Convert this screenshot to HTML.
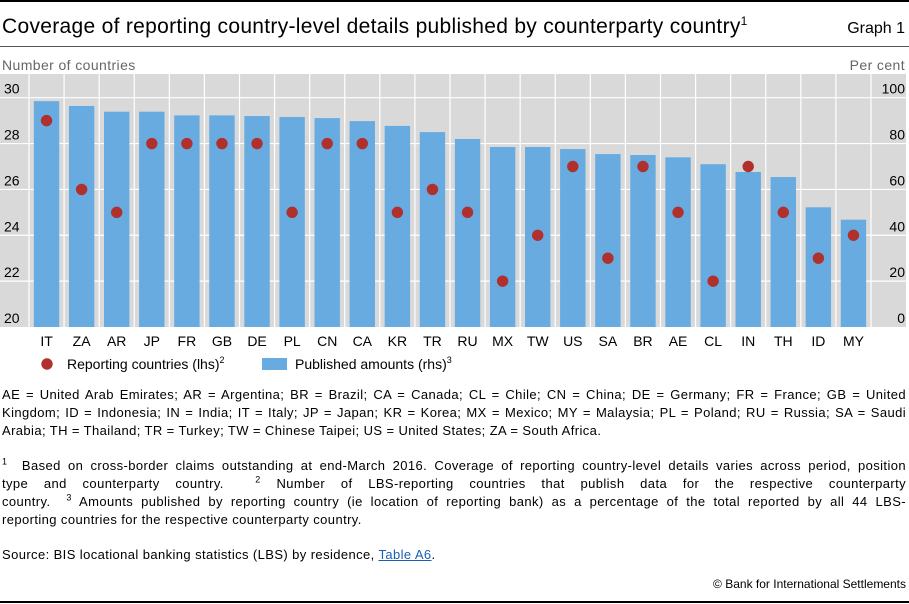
<!DOCTYPE html>
<html><head><meta charset="utf-8"><style>
body{margin:0;width:909px;height:604px;background:#fff;font-family:"Liberation Sans",sans-serif;position:relative;overflow:hidden;color:#000}
.abs{position:absolute}
.fn{position:absolute;left:2px;width:904px;font-size:13px;line-height:18px;letter-spacing:0.4px;white-space:nowrap}
.fn div{text-align:justify;text-align-last:justify}
.fn div.last{text-align-last:left}
sup{font-size:9px;line-height:0}
</style></head><body>
<div class="abs" style="left:0;top:0;width:909px;height:2px;background:#000"></div>
<div class="abs" style="left:2px;top:15px;font-size:21px;letter-spacing:0.3px">Coverage of reporting country-level details published by counterparty country<sup style="font-size:12px">1</sup></div>
<div class="abs" style="right:4px;top:20px;font-size:16px">Graph 1</div>
<div class="abs" style="left:0;top:46px;width:909px;height:1px;background:#555"></div>
<svg class="abs" style="left:0;top:0" width="909" height="390" id="chart"></svg>
<div class="fn" style="top:386px">
<div>AE = United Arab Emirates; AR = Argentina; BR = Brazil; CA = Canada; CL = Chile; CN = China; DE = Germany; FR = France; GB = United</div>
<div>Kingdom; ID = Indonesia; IN = India; IT = Italy; JP = Japan; KR = Korea; MX = Mexico; MY = Malaysia; PL = Poland; RU = Russia; SA = Saudi</div>
<div class="last">Arabia; TH = Thailand; TR = Turkey; TW = Chinese Taipei; US = United States; ZA = South Africa.</div>
</div>
<div class="fn" style="top:457px">
<div><sup>1</sup>&nbsp; Based on cross-border claims outstanding at end-March 2016. Coverage of reporting country-level details varies across period, position</div>
<div>type and counterparty country. &nbsp;<sup>2</sup> Number of LBS-reporting countries that publish data for the respective counterparty</div>
<div>country. &nbsp;<sup>3</sup> Amounts published by reporting country (ie location of reporting bank) as a percentage of the total reported by all 44 LBS-</div>
<div class="last">reporting countries for the respective counterparty country.</div>
</div>
<div class="fn" style="top:546px"><div class="last">Source: BIS locational banking statistics (LBS) by residence, <span style="color:#1a5fb4;text-decoration:underline">Table A6</span>.</div></div>
<div class="abs" style="right:3px;top:577px;font-size:12px">© Bank for International Settlements</div>
<div class="abs" style="left:0;top:601px;width:909px;height:2px;background:#000"></div>
<script>
const categories=["IT","ZA","AR","JP","FR","GB","DE","PL","CN","CA","KR","TR","RU","MX","TW","US","SA","BR","AE","CL","IN","TH","ID","MY"];
const publishedAmounts=[98.5,96.4,93.9,93.9,92.3,92.3,92,91.6,91.1,89.8,87.7,85,82,78.5,78.5,77.6,75.4,75,74,71,67.6,65.4,52.2,46.8];
const reportingCountries=[29,26,25,28,28,28,28,25,28,28,25,26,25,22,24,27,23,27,25,22,27,25,23,24];
const lhsTicks=[20,22,24,26,28,30];
const rhsTicks=[0,20,40,60,80,100];
const NS="http://www.w3.org/2000/svg";
const svg=document.getElementById('chart');
const plotTop=74,plotBot=327,x0=29,x1=871;
const yL=v=>327-(v-20)*22.93;
const yR=v=>327-v*2.293;
const step=(x1-x0)/categories.length;
const xC=i=>x0+step*(i+0.5);
function mk(t,a){const e=document.createElementNS(NS,t);for(const k in a)e.setAttribute(k,a[k]);svg.appendChild(e);return e;}
let e=mk('rect',{x:0,y:plotTop,width:906,height:plotBot-plotTop,fill:'#d9d9d9'});

lhsTicks.forEach(v=>{if(v>20){const g=mk('line',{x1:0,x2:906,y1:yL(v),y2:yL(v),stroke:'#fff','stroke-width':1.2});
}});
for(let i=0;i<=categories.length;i++){const g=mk('line',{x1:x0+step*i,x2:x0+step*i,y1:plotTop,y2:plotBot,stroke:'#fff','stroke-width':1.2});
}
categories.forEach((c,i)=>{
 const b=mk('rect',{x:xC(i)-12.7,y:yR(publishedAmounts[i]),width:25.4,height:plotBot-yR(publishedAmounts[i]),fill:'#68abe0'});
 
 const d=mk('circle',{cx:xC(i),cy:yL(reportingCountries[i]),r:5.7,fill:'#b0302e'});
 
 const t=mk('text',{x:xC(i),y:346,'text-anchor':'middle','font-size':14,fill:'#000'});t.textContent=c;
 
});
lhsTicks.forEach(v=>{const t=mk('text',{x:4,y:yL(v)-4,'font-size':14,fill:'#000'});t.textContent=v;
 });
rhsTicks.forEach(v=>{const t=mk('text',{x:905,y:yR(v)-4,'font-size':14,'text-anchor':'end',fill:'#000'});t.textContent=v;
 });
e=mk('text',{x:2,y:70,'font-size':14,fill:'#666','letter-spacing':0.4});e.textContent='Number of countries';

e=mk('text',{x:905,y:70,'font-size':14,fill:'#666','text-anchor':'end','letter-spacing':0.4});e.textContent='Per cent';

e=mk('circle',{cx:47,cy:364,r:5.7,fill:'#b0302e'});

e=mk('text',{x:67,y:369,'font-size':14});e.innerHTML='Reporting countries (lhs)<tspan dy="-6" font-size="9">2</tspan>';

e=mk('rect',{x:262,y:358,width:25,height:12,fill:'#68abe0'});

e=mk('text',{x:295,y:369,'font-size':14});e.innerHTML='Published amounts (rhs)<tspan dy="-6" font-size="9">3</tspan>';

</script>
</body></html>
